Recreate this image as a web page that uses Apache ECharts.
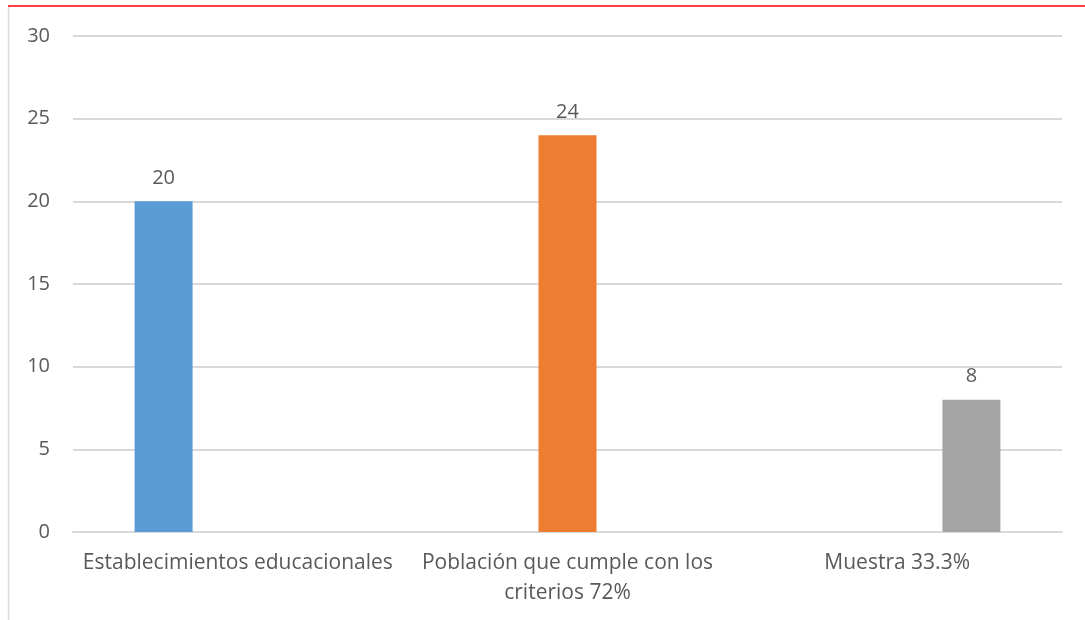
<!DOCTYPE html>
<html>
<head>
<meta charset="utf-8">
<script src="https://cdn.jsdelivr.net/npm/echarts@6/dist/echarts.min.js"></script>
<style>
  html, body { margin: 0; padding: 0; background: #ffffff; }
  #chart { width: 1085px; height: 620px; }
</style>
</head>
<body>
<div id="chart"></div>
<script>
// Categories and the values of each bar
const categories = ['Establecimientos educacionales', 'Población que cumple con los\ncriterios 72%', 'Muestra 33.3%'];
const establecimientos = [20, null, null];
const poblacion = [null, 24, null];
const muestra = [null, null, 8];
const yTicks = [0, 5, 10, 15, 20, 25, 30];

const textColor = '#595959';
const fontFamily = '"Open Sans", "Noto Sans", sans-serif';

function barSeries(name, data, color) {
  return {
    name: name,
    type: 'bar',
    data: data,
    barWidth: 58,
    barGap: '28%',
    itemStyle: { color: color },
    label: {
      show: true,
      position: 'top',
      distance: 13,
      color: textColor,
      fontSize: 20,
      fontFamily: fontFamily
    }
  };
}

const chart = echarts.init(document.getElementById('chart'), null, { renderer: 'canvas' });
chart.setOption({
  animation: false,
  backgroundColor: '#ffffff',
  grid: { left: 73, right: 23, top: 36, bottom: 88, containLabel: false },
  xAxis: {
    type: 'category',
    data: categories,
    axisLine: { show: true, lineStyle: { color: '#d9d9d9', width: 2 } },
    axisTick: { show: false },
    axisLabel: {
      color: textColor,
      fontSize: 21,
      fontFamily: fontFamily,
      margin: 16,
      lineHeight: 30,
      interval: 0
    }
  },
  yAxis: {
    type: 'value',
    min: yTicks[0],
    max: yTicks[yTicks.length - 1],
    interval: 5,
    axisLine: { show: false },
    axisTick: { show: false },
    splitLine: { lineStyle: { color: '#d9d9d9', width: 2 } },
    axisLabel: {
      color: textColor,
      fontSize: 20,
      fontFamily: fontFamily,
      margin: 23
    }
  },
  series: [
    barSeries('Establecimientos educacionales', establecimientos, '#5b9bd5'),
    barSeries('Población que cumple con los criterios 72%', poblacion, '#ed7d31'),
    barSeries('Muestra 33.3%', muestra, '#a5a5a5')
  ],
  graphic: [
    { type: 'line', shape: { x1: 8, y1: 6, x2: 1085, y2: 6 }, style: { stroke: '#ff0000', lineWidth: 1.5 } },
    { type: 'line', shape: { x1: 8.5, y1: 7, x2: 8.5, y2: 620 }, style: { stroke: '#d9d9d9', lineWidth: 1.5 } }
  ]
});
</script>
</body>
</html>
